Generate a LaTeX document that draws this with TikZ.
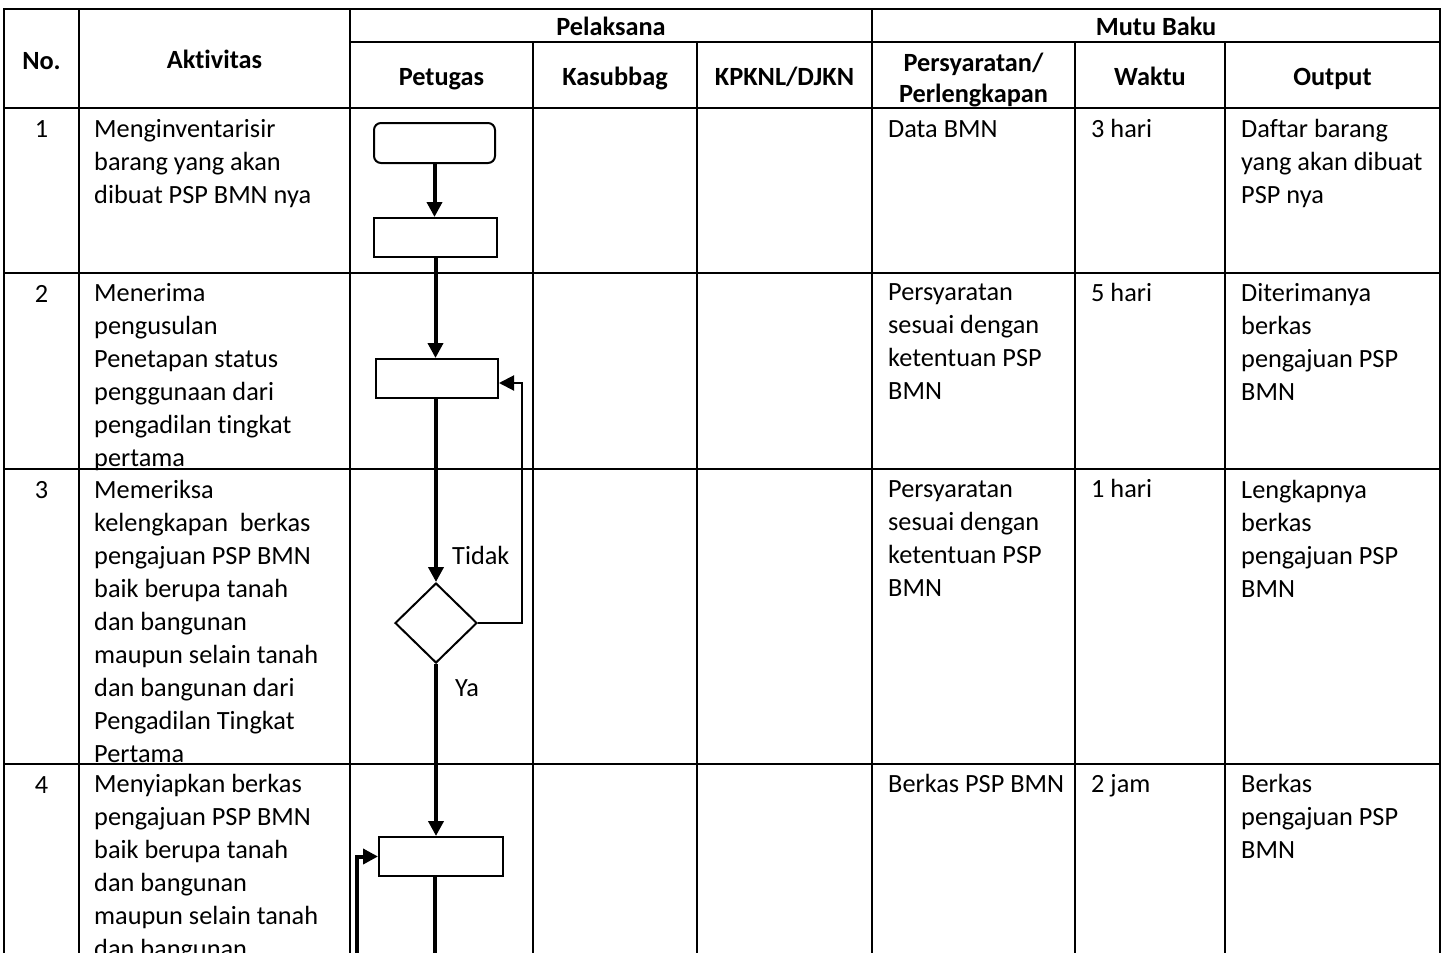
\documentclass[tikz,border=0pt]{standalone}
\usepackage{fontspec}
\setmainfont{Carlito}[Ligatures=NoCommon]
\usetikzlibrary{arrows.meta,shapes.geometric}
\newcommand\cellfnt{\fontsize{26.3}{33}\selectfont}
\begin{document}
\begin{tikzpicture}[x=1pt,y=-1pt,
 gridline/.style={line width=2.3pt,line cap=rect},
 hdr/.style={font=\cellfnt\bfseries,inner sep=0pt,anchor=base},
 hdrtwo/.style={font=\cellfnt\bfseries,inner sep=0pt,align=center,anchor=north,execute at begin node=\strut},
 cell/.style={font=\cellfnt,inner sep=0pt,align=left,anchor=north west,execute at begin node=\strut},
 num/.style={font=\cellfnt,inner sep=0pt,anchor=base},
 procbox/.style={draw,line width=2pt,minimum width=123pt,minimum height=39pt,inner sep=0pt},
 startbox/.style={procbox,rounded corners=7pt,minimum width=121pt,minimum height=40pt},
 decision/.style={draw,diamond,line width=2pt,minimum width=82pt,minimum height=80pt,inner sep=0pt},
 flow/.style={line width=4pt,-{Triangle[length=15pt,width=15pt]}},
 plainflow/.style={line width=4pt},
 backflow/.style={line width=2pt,-{Triangle[length=15pt,width=15pt]}},
 lbl/.style={font=\cellfnt,inner sep=0pt}
]
\useasboundingbox (0,0) rectangle (1446,953);
\clip (0,0) rectangle (1446,953);

% table grid
\draw[gridline] (4,9) -- (1440,9);
\draw[gridline] (350,42) -- (1440,42);
\foreach \yy in {108,273,469,764} \draw[gridline] (4,\yy) -- (1440,\yy);
\foreach \xx in {4,79,350,872,1440} \draw[gridline] (\xx,9) -- (\xx,980);
\foreach \xx in {533,697,1075,1225} \draw[gridline] (\xx,42) -- (\xx,980);

% header
\node[hdr] (hno) at (41.5,69) {No.};
\node[hdr] (hakt) at (214.5,68) {Aktivitas};
\node[hdr] (hpel) at (611,35) {Pelaksana};
\node[hdr] (hmutu) at (1156,35) {Mutu Baku};
\node[hdr] (hpet) at (441.5,85) {Petugas};
\node[hdr] (hkas) at (615,85) {Kasubbag};
\node[hdr] (hkpk) at (784.5,85) {KPKNL/DJKN};
\node[hdrtwo] (hpers) at (973.5,52.5) {Persyaratan/\\[-2pt]Perlengkapan};
\node[hdr] (hwak) at (1150,85) {Waktu};
\node[hdr] (hout) at (1332.5,85) {Output};

% row 1
\node[num] (n1) at (41.5,137) {1};
\node[cell] (a1) at (94,119) {Menginventarisir\\barang yang akan\\dibuat PSP BMN nya};
\node[cell] (q1) at (888,114) {Data BMN};
\node[cell] (w1) at (1091,114) {3 hari};
\node[cell] (o1) at (1241,119) {Daftar barang\\yang akan dibuat\\PSP nya};

% row 2
\node[num] (n2) at (41.5,302) {2};
\node[cell] (a2) at (94,283) {Menerima\\pengusulan\\Penetapan status\\penggunaan dari\\pengadilan tingkat\\pertama};
\node[cell] (q2) at (888,283) {Persyaratan\\sesuai dengan\\ketentuan PSP\\BMN};
\node[cell] (w2) at (1091,278) {5 hari};
\node[cell] (o2) at (1241,283) {Diterimanya\\berkas\\pengajuan PSP\\BMN};

% row 3
\node[num] (n3) at (41.5,498) {3};
\node[cell] (a3) at (94,480) {Memeriksa\\kelengkapan\ \ berkas\\pengajuan PSP BMN\\baik berupa tanah\\dan bangunan\\maupun selain tanah\\dan bangunan dari\\Pengadilan Tingkat\\Pertama};
\node[cell] (q3) at (888,480) {Persyaratan\\sesuai dengan\\ketentuan PSP\\BMN};
\node[cell] (w3) at (1091,474) {1 hari};
\node[cell] (o3) at (1241,480) {Lengkapnya\\berkas\\pengajuan PSP\\BMN};

% row 4
\node[num] (n4) at (41.5,793) {4};
\node[cell] (a4) at (94,774) {Menyiapkan berkas\\pengajuan PSP BMN\\baik berupa tanah\\dan bangunan\\maupun selain tanah\\dan bangunan};
\node[cell] (q4) at (888,769) {Berkas PSP BMN};
\node[cell] (w4) at (1091,769) {2 jam};
\node[cell] (o4) at (1241,774) {Berkas\\pengajuan PSP\\BMN};

% flowchart
\node[startbox] (s0) at (434.5,143) {};
\node[procbox] (p1) at (435.5,237.5) {};
\node[procbox,minimum width=122pt] (p2) at (437,378.5) {};
\node[decision] (d1) at (436,623) {};
\node[procbox,minimum width=124pt] (p3) at (441,856.5) {};
\coordinate (exitC) at (435,990);
\coordinate (entryC) at (357,990);
\coordinate (loopx) at (522,0);

\draw[flow] (s0.south) -- (s0.south |- p1.north);
\draw[flow] (p1.south) -- (p1.south |- p2.north);
\draw[flow] (d1.north |- p2.south) -- (d1.north);
\draw[flow] (d1.south) -- (d1.south |- p3.north);
\draw[plainflow] (exitC |- p3.south) -- (exitC);
\draw[flow] (entryC) |- (p3.west);
\draw[backflow] (d1.east) -- (d1.east -| loopx) -- ([yshift=-4.5pt]p2.east -| loopx) -- ([yshift=-4.5pt]p2.east);

\node[lbl,anchor=west] (tidak) at (452,555) {Tidak};
\node[lbl,anchor=west] (ya) at (455,688) {Ya};
\end{tikzpicture}
\end{document}
